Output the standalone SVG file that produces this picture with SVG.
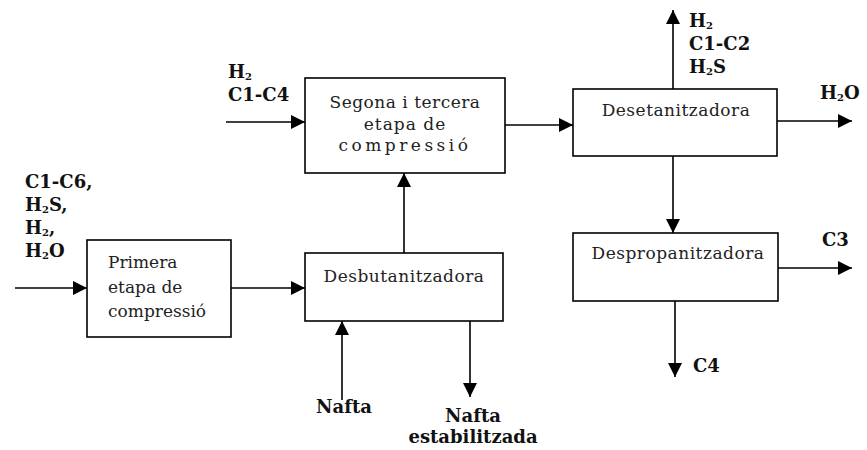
<svg xmlns="http://www.w3.org/2000/svg" width="867" height="450" viewBox="0 0 867 450">
<style>
.box{fill:#fff;stroke:#000;stroke-width:1.6}
.ln{stroke:#000;stroke-width:1.6;fill:none}
.bt{font-family:"DejaVu Serif","Liberation Serif",serif;font-size:17px;fill:#222;text-anchor:middle;letter-spacing:0.5px}
.bl{font-family:"DejaVu Serif","Liberation Serif",serif;font-size:17px;fill:#222;text-anchor:start}
.lb{font-family:"DejaVu Serif","Liberation Serif",serif;font-size:18px;font-weight:bold;fill:#111}
.s{font-size:10px}
</style>
<defs>
<marker id="ah" viewBox="0 0 10 10" refX="10" refY="5" markerWidth="14" markerHeight="14" markerUnits="userSpaceOnUse" orient="auto">
<path d="M0,0 L10,5 L0,10 Z" fill="#000"/>
</marker>
</defs>
<rect width="867" height="450" fill="#fff"/>
<g id="connectors">
<line class="ln" x1="15" y1="288" x2="87" y2="288" marker-end="url(#ah)"/>
<line class="ln" x1="231" y1="288" x2="305" y2="288" marker-end="url(#ah)"/>
<line class="ln" x1="342" y1="400" x2="342" y2="321" marker-end="url(#ah)"/>
<line class="ln" x1="470" y1="321" x2="470" y2="397" marker-end="url(#ah)"/>
<line class="ln" x1="404" y1="253" x2="404" y2="173" marker-end="url(#ah)"/>
<line class="ln" x1="226" y1="122" x2="305" y2="122" marker-end="url(#ah)"/>
<line class="ln" x1="505" y1="125" x2="573" y2="125" marker-end="url(#ah)"/>
<line class="ln" x1="673" y1="89" x2="673" y2="10" marker-end="url(#ah)"/>
<line class="ln" x1="777" y1="121" x2="852" y2="121" marker-end="url(#ah)"/>
<line class="ln" x1="673" y1="156" x2="673" y2="233" marker-end="url(#ah)"/>
<line class="ln" x1="778" y1="268" x2="852" y2="268" marker-end="url(#ah)"/>
<line class="ln" x1="675" y1="301" x2="675" y2="377" marker-end="url(#ah)"/>
</g>
<g id="primera">
<rect class="box" x="87" y="240" width="144" height="97"/>
<text class="bl" x="108" y="268">Primera</text>
<text class="bl" x="108" y="293">etapa de</text>
<text class="bl" x="108" y="317">compressió</text>
</g>
<g id="desbutanitzadora">
<rect class="box" x="305" y="253" width="198" height="68"/>
<text class="bt" x="404" y="282">Desbutanitzadora</text>
</g>
<g id="segona">
<rect class="box" x="305" y="78" width="200" height="95"/>
<text class="bt" x="405" y="108">Segona i tercera</text>
<text class="bt" x="405" y="130" style="letter-spacing:1px">etapa de</text>
<text class="bt" x="405" y="151" style="letter-spacing:3.5px">compressió</text>
</g>
<g id="desetanitzadora">
<rect class="box" x="573" y="89" width="204" height="67"/>
<text class="bt" x="676" y="116">Desetanitzadora</text>
</g>
<g id="despropanitzadora">
<rect class="box" x="573" y="233" width="205" height="68"/>
<text class="bt" x="678" y="259">Despropanitzadora</text>
</g>
<g id="labels">
<text class="lb" x="25" y="188">C1-C6,</text>
<text class="lb" x="25" y="211">H<tspan class="s" dy="2">2</tspan><tspan dy="-2">S,</tspan></text>
<text class="lb" x="25" y="234">H<tspan class="s" dy="2">2</tspan><tspan dy="-2">,</tspan></text>
<text class="lb" x="25" y="257">H<tspan class="s" dy="2">2</tspan><tspan dy="-2">O</tspan></text>
<text class="lb" x="228" y="78">H<tspan class="s" dy="2">2</tspan></text>
<text class="lb" x="228" y="101">C1-C4</text>
<text class="lb" x="689" y="27">H<tspan class="s" dy="2">2</tspan></text>
<text class="lb" x="689" y="50">C1-C2</text>
<text class="lb" x="689" y="73">H<tspan class="s" dy="2">2</tspan><tspan dy="-2">S</tspan></text>
<text class="lb" x="820" y="99">H<tspan class="s" dy="2">2</tspan><tspan dy="-2">O</tspan></text>
<text class="lb" x="822" y="246">C3</text>
<text class="lb" x="693" y="372">C4</text>
<text class="lb" x="344" y="413" text-anchor="middle">Nafta</text>
<text class="lb" x="473" y="422" text-anchor="middle">Nafta</text>
<text class="lb" x="473" y="443" text-anchor="middle">estabilitzada</text>
</g>
</svg>
